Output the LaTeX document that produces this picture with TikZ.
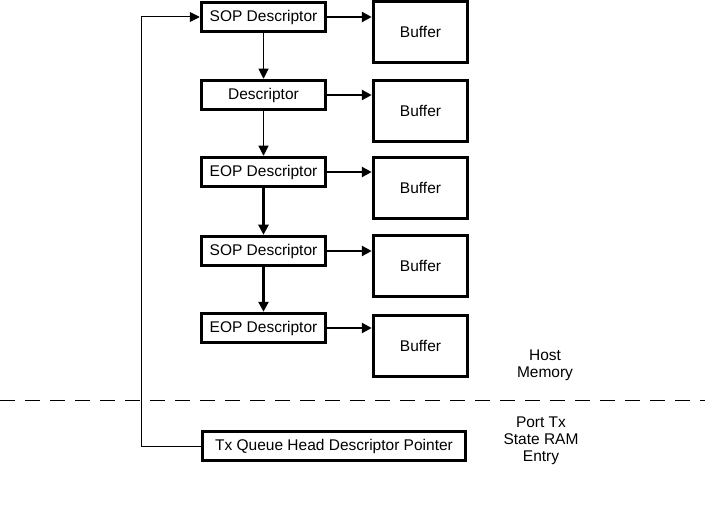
\documentclass[tikz,border=0pt]{standalone}
\usepackage{fontspec}
\setmainfont{Liberation Sans}
\usetikzlibrary{arrows.meta}
\begin{document}
\begin{tikzpicture}[x=1pt,y=-1pt,
  lbl/.style={font=\fontsize{15.5}{17}\selectfont},
  desc/.style={lbl,draw,line width=3.5pt,minimum width=124pt,minimum height=29pt,inner sep=0pt},
  buf/.style={lbl,draw,line width=3.5pt,minimum width=94pt,minimum height=61pt,inner sep=0pt},
  note/.style={lbl,align=center},
  tip/.style={-{Triangle[length=10pt,width=10pt]}},
  thin link/.style={tip,line width=1pt},
  thick link/.style={tip,line width=2.5pt}]
\useasboundingbox (0,0) rectangle (705,508);
% descriptor chain
\node[desc] (d1) at (263.5,17) {SOP Descriptor};
\node[desc] (d2) at (263.5,95) {Descriptor};
\node[desc] (d3) at (263.5,172) {EOP Descriptor};
\node[desc] (d4) at (263.5,251) {SOP Descriptor};
\node[desc] (d5) at (263.5,328) {EOP Descriptor};
% buffers
\node[buf] (b1) at (420.5,32) {Buffer};
\node[buf] (b2) at (420.5,111) {Buffer};
\node[buf] (b3) at (420.5,188) {Buffer};
\node[buf] (b4) at (420.5,266) {Buffer};
\node[buf] (b5) at (420.5,346) {Buffer};
\node[desc,minimum width=263pt] (tx) at (334,446) {Tx Queue Head Descriptor Pointer};
\node[note] (host) at (545,365) {Host\\Memory};
\node[note] (port) at (541,441) {Port Tx\\State RAM\\Entry};
% boundary
\coordinate (cutl) at (0,400);
\coordinate (cutr) at (705,400);
\draw[line width=1pt,dash pattern=on 15pt off 10pt] (cutl) -- (cutr);
\foreach \d/\b in {d1/b1,d2/b2,d3/b3,d4/b4,d5/b5}
  \draw[thick link] (\d.east) -- (\d.east -| \b.west);
\draw[thin link] (d1) -- (d2);
\draw[thin link] (d2) -- (d3);
\draw[thick link] (d3) -- (d4);
\draw[thick link] (d4) -- (d5);
\coordinate (loop) at (141,446);
\draw[thin link] (tx.west) -- (loop) |- (d1.west);
\end{tikzpicture}
\end{document}
